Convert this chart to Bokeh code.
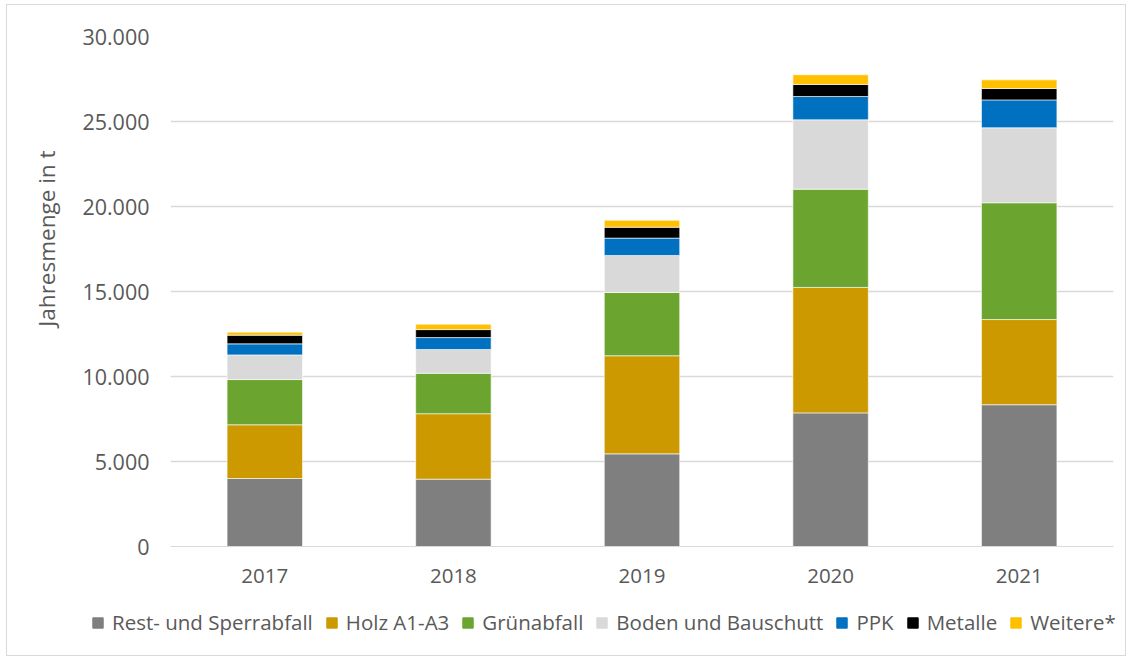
from bokeh.plotting import figure
from bokeh.models import ColumnDataSource, Legend, LegendItem, CustomJSTickFormatter, Range1d, Title
from bokeh.layouts import column
from bokeh.embed import file_html
from bokeh.resources import INLINE

years = ["2017", "2018", "2019", "2020", "2021"]
rest = [4000, 3960, 5450, 7860, 8340]
holz = [3160, 3850, 5770, 7380, 5010]
gruen = [2660, 2380, 3720, 5780, 6870]
boden = [1450, 1400, 2180, 4080, 4410]
ppk = [650, 700, 1020, 1370, 1640]
metalle = [510, 470, 640, 710, 670]
weitere = [180, 320, 410, 570, 510]

series = ["rest", "holz", "gruen", "boden", "ppk", "metalle", "weitere"]
labels = ["Rest- und Sperrabfall", "Holz A1-A3", "Grünabfall", "Boden und Bauschutt",
          "PPK", "Metalle", "Weitere*"]
colors = ["#7f7f7f", "#cc9900", "#6ba52f", "#d9d9d9", "#0070c0", "#000000", "#ffc000"]

source = ColumnDataSource(dict(years=years, rest=rest, holz=holz, gruen=gruen, boden=boden,
                               ppk=ppk, metalle=metalle, weitere=weitere))

FONT = "Open Sans"
TXT = "#595959"
W = 1118

p = figure(x_range=years, y_range=Range1d(0, 30000), width=W, height=598,
           output_backend="svg", toolbar_location=None,
           min_border_left=163, min_border_right=12, min_border_top=31, min_border_bottom=57)

renderers = p.vbar_stack(series, x="years", width=0.4, source=source, color=colors,
                         line_color="white", line_width=0.6)

p.outline_line_color = None
p.xgrid.grid_line_color = None
p.ygrid.grid_line_color = "#d9d9d9"
p.ygrid.grid_line_width = 1.3

p.yaxis.axis_line_color = None
p.yaxis.major_tick_line_color = None
p.yaxis.minor_tick_line_color = None
p.yaxis.ticker = [0, 5000, 10000, 15000, 20000, 25000, 30000]
p.yaxis.formatter = CustomJSTickFormatter(code="""
return tick.toFixed(0).replace(/\\B(?=(\\d{3})+(?!\\d))/g, ".");
""")
p.yaxis.major_label_text_font = FONT
p.yaxis.major_label_text_font_size = "21.5px"
p.yaxis.major_label_text_color = TXT
p.yaxis.major_label_standoff = 15

ytitle = Title(text="Jahresmenge in t", align="right", offset=114, standoff=35,
               text_font=FONT, text_font_size="22.5px", text_font_style="normal",
               text_color=TXT)
p.add_layout(ytitle, "left")

p.xaxis.axis_line_color = "#d9d9d9"
p.xaxis.major_tick_line_color = None
p.xaxis.minor_tick_line_color = None
p.xaxis.major_label_text_font = FONT
p.xaxis.major_label_text_font_size = "20.5px"
p.xaxis.major_label_text_color = TXT
p.xaxis.major_label_standoff = 16
p.x_range.range_padding = 0
p.x_range.factor_padding = 0

# separate strip for the legend (below the chart)
p2 = figure(width=W, height=52, x_range=Range1d(0, 1), y_range=Range1d(0, 1),
            output_backend="svg", toolbar_location=None,
            x_axis_location=None, y_axis_location=None,
            min_border_left=0, min_border_right=0, min_border_top=0, min_border_bottom=0)
p2.grid.visible = False
p2.outline_line_color = None
for fig in (p, p2):
    try:
        fig.frame_align = False
    except Exception:
        pass

items = []
for lab, c in zip(labels, colors):
    # placeholder renderer (outside visible range) only to carry the legend swatch
    r = p2.vbar(x=[5], top=[5], bottom=[4], width=0.1, color=c)
    items.append(LegendItem(label=lab, renderers=[r]))
legend = Legend(items=items, orientation="horizontal", location=(84, 19),
                label_text_font=FONT, label_text_font_size="20.5px", label_text_color=TXT,
                glyph_width=13, glyph_height=13, spacing=12, label_standoff=8,
                border_line_color=None, background_fill_alpha=0, padding=0, margin=0)
p2.add_layout(legend, "center")

layout = column(p, p2, spacing=0)
layout.styles = {"border": "1px solid #d9d9d9", "margin-left": "6px", "margin-top": "4px"}

open("out.html", "w").write(file_html(layout, INLINE))
